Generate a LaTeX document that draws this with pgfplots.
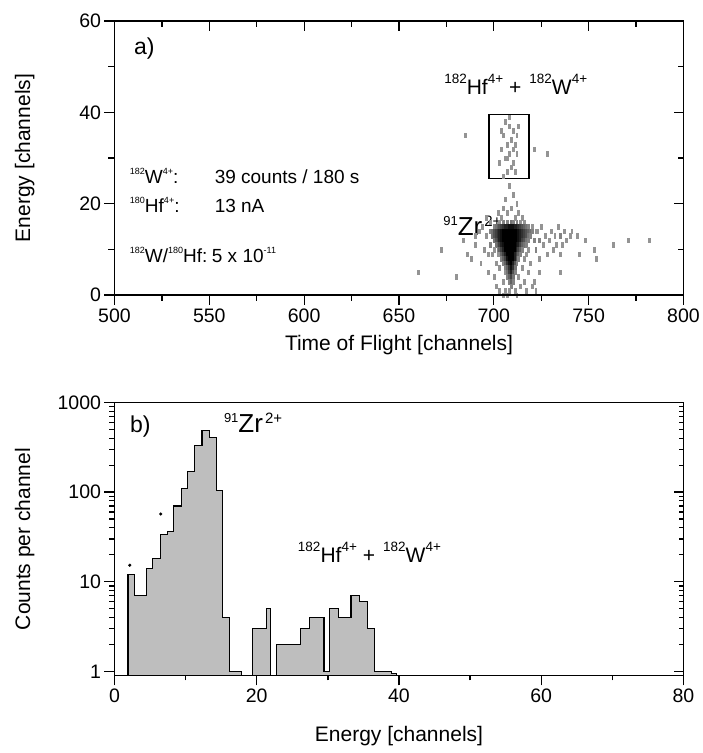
\documentclass[border=0pt]{standalone}
\usepackage{pgfplots}
\pgfplotsset{compat=1.18}
\usepackage{fontspec}
\setmainfont{Liberation Sans}
\newcommand\fsz[1]{\fontsize{#1}{#1}\selectfont}
\newcommand\supr[3]{\raisebox{#2}{\fontsize{#1}{#1}\selectfont #3}}
\definecolor{histgray}{RGB}{190,190,190}
\pgfplotsset{
  mybase/.style={
    scale only axis, width=569pt,
    axis line style={line width=1.3pt},
    every tick/.style={black, line width=1.3pt},
    major tick length=10pt, minor tick length=6pt,
    tick label style={font=\fsz{19.5}},
    /pgf/number format/assume math mode=true,
    label style={font=\fsz{21}},
  },
  overlay/.style={
    xticklabels={}, yticklabels={},
  }
}
\begin{document}
\begin{tikzpicture}
\path[use as bounding box] (0,0) rectangle (703pt,753pt);
% ---------------- top panel ----------------
\begin{axis}[mybase, at={(114.5pt,458pt)}, anchor=south west, height=274pt,
  xmin=500, xmax=800, ymin=0, ymax=60,
  xtick={500,550,...,800}, ytick={0,20,40,60},
  minor x tick num=1, minor y tick num=1,
  xtick pos=left, ytick pos=left, tick align=outside,
  xlabel={Time of Flight [channels]}, ylabel={Energy [channels]},
  xlabel style={at={(axis description cs:0.5,-0.182)}, anchor=center},
  ylabel style={at={(axis description cs:-0.158,0.5)}, anchor=center},
  colormap={bw}{gray(0cm)=(0.58); gray(1cm)=(0)},
  point meta min=1, point meta max=10,
]
\addplot[scatter, only marks, mark=square*, mark size=1.15pt,
  mark options={xscale=0.825, yscale=1.985, line width=0.15pt},
  scatter/use mapped color={draw=mapped color, fill=mapped color},
  point meta=explicit] table[meta=c] {
x y c
703 16 1
705 16 2
707 16 2
709 16 3
710 16 2
712 16 2
714 16 1
716 16 1
700 15 2
701 15 3
702 15 4
703 15 5
704 15 6
705 15 7
706 15 8
707 15 8
708 15 9
709 15 9
710 15 9
711 15 8
712 15 8
713 15 7
714 15 6
715 15 5
716 15 4
717 15 3
718 15 2
720 15 1
698 14 2
699 14 3
700 14 5
701 14 6
702 14 7
703 14 8
704 14 9
705 14 10
706 14 10
707 14 10
708 14 10
709 14 10
710 14 10
711 14 10
712 14 10
713 14 9
714 14 8
715 14 7
716 14 6
717 14 5
718 14 4
719 14 3
720 14 2
722 14 1
699 13 3
700 13 5
701 13 6
702 13 7
703 13 8
704 13 9
705 13 10
706 13 10
707 13 10
708 13 10
709 13 10
710 13 10
711 13 10
712 13 10
713 13 9
714 13 8
715 13 7
716 13 6
717 13 5
718 13 3
719 13 2
700 12 3
701 12 5
702 12 6
703 12 8
704 12 9
705 12 10
706 12 10
707 12 10
708 12 10
709 12 10
710 12 10
711 12 10
712 12 10
713 12 9
714 12 8
715 12 6
716 12 5
717 12 3
718 12 2
701 11 3
702 11 4
703 11 6
704 11 8
705 11 9
706 11 10
707 11 10
708 11 10
709 11 10
710 11 10
711 11 10
712 11 9
713 11 8
714 11 6
715 11 4
716 11 3
717 11 2
702 10 2
703 10 4
704 10 6
705 10 8
706 10 10
707 10 10
708 10 10
709 10 10
710 10 10
711 10 10
712 10 8
713 10 6
714 10 4
715 10 2
703 9 2
704 9 4
705 9 6
706 9 8
707 9 10
708 9 10
709 9 10
710 9 10
711 9 8
712 9 6
713 9 4
714 9 2
704 8 2
705 8 4
706 8 6
707 8 9
708 8 10
709 8 10
710 8 10
711 8 8
712 8 5
713 8 2
705 7 2
706 7 4
707 7 7
708 7 9
709 7 10
710 7 8
711 7 5
712 7 2
706 6 2
707 6 4
708 6 7
709 6 9
710 6 7
711 6 3
706 5 1
707 5 3
708 5 6
709 5 8
710 5 5
711 5 2
707 4 2
708 4 4
709 4 6
710 4 3
708 3 2
709 3 4
710 3 2
709 2 2
660 5 1
672 10 1
680 4 1
684 12 1
686 9 1
688 8 1
690 11 1
690 13 1
692 14 1
693 7 1
694 15 1
695 10 1
696 13 1
696 17 1
697 5 1
697 9 1
698 11 2
698 16 1
721 12 2
722 10 2
723 14 1
724 8 1
724 12 2
725 15 1
726 11 1
727 13 1
728 9 1
729 12 1
730 14 1
731 10 1
732 13 1
733 11 1
734 15 1
735 13 2
735 9 1
736 11 1
737 14 1
738 12 1
740 13 1
741 14 1
744 13 1
745 9 1
748 12 1
753 10 1
754 8 1
763 11 1
771 12 1
782 12 1
735 5 1
724 5 1
700 4 1
701 2 1
703 1 1
703 6 1
705 0 1
705 3 1
706 1 1
707 0 1
708 1 1
711 1 1
712 0 1
713 4 1
714 2 1
715 6 1
716 3 1
717 1 1
718 5 1
720 2 1
721 3 1
722 1 1
719 7 1
716 8 1
717 9 1
718 10 1
701 7 1
702 9 1
700 10 1
699 9 1
704 17 1
707 18 1
709 19 1
711 17 1
713 18 1
706 21 1
710 22 1
708 24 1
712 20 1
705 19 1
715 17 1
702 18 1
706 38 1
708 37 1
710 36 1
705 35 1
709 34 1
707 33 1
711 33 1
704 32 1
708 31 1
712 31 1
706 30 1
710 29 1
703 29 1
709 28 1
707 27 1
711 27 1
705 26 1
712 35 1
708 39 1
713 37 1
704 36 1
710 32 1
707 30 1
685 35 1
721 32 1
728 31 1
};
\addplot[black, line width=1.2pt] coordinates {(697.5,25.5) (718.5,25.5) (718.5,39.5) (697.5,39.5) (697.5,25.5)};
\node[anchor=west, font=\fsz{23}] at (axis cs:508.5,54) {a)};
\node[anchor=base west, font=\fsz{21}] at (axis cs:672,44)
  {\supr{13.5}{11pt}{182}Hf\supr{13.5}{11pt}{4+}\hspace{6pt}+\hspace{8pt}\supr{13.5}{11pt}{182}W\supr{13.5}{11pt}{4+}};
\node[anchor=base west, font=\fsz{26}] at (axis cs:671.5,13)
  {\supr{13}{10pt}{91}Zr\hspace{2pt}\supr{15}{9pt}{2+}};
\node[anchor=base west, font=\fsz{19}] at (axis cs:506.3,24.5) {\supr{9}{8.5pt}{182}W\supr{9}{8.5pt}{4+}:};
\node[anchor=base west, font=\fsz{19}] at (axis cs:551,24.5) {39 counts / 180 s};
\node[anchor=base west, font=\fsz{19}] at (axis cs:506.3,18.1) {\supr{9}{8.5pt}{180}Hf\supr{9}{8.5pt}{4+}:};
\node[anchor=base west, font=\fsz{19}] at (axis cs:551,18.1) {13 nA};
\node[anchor=base west, font=\fsz{19}] at (axis cs:506.3,7.2) {\supr{9}{8.5pt}{182}W/\supr{9}{8.5pt}{180}Hf:};
\node[anchor=base west, font=\fsz{19}] at (axis cs:549.5,7.2) {5 x 10\supr{9}{8.5pt}{-11}};
\end{axis}
\begin{axis}[mybase, overlay, at={(114.5pt,458pt)}, anchor=south west, height=274pt,
  xmin=500, xmax=800, ymin=0, ymax=60,
  xtick={500,550,...,800}, ytick={0,20,40,60},
  minor x tick num=1, minor y tick num=1,
  xtick pos=right, ytick pos=right, tick align=inside]
\end{axis}
% ---------------- bottom panel ----------------
\begin{axis}[mybase, at={(114.5pt,77.5pt)}, anchor=south west, height=273pt,
  ymode=log, xmin=0, xmax=80, ymin=0.9, ymax=1000,
  xtick={0,20,...,80}, minor x tick num=1,
  ytick={1,10,100,1000}, yticklabels={1,10,100,1000},
  minor ytick={2,3,4,5,6,7,8,9,20,30,40,50,60,70,80,90,200,300,400,500,600,700,800,900},
  minor tick length=5pt,
  xtick pos=left, ytick pos=left, tick align=outside,
  xlabel={Energy [channels]}, ylabel={Counts per channel},
  xlabel style={at={(axis description cs:0.5,-0.222)}, anchor=center},
  ylabel style={at={(axis description cs:-0.158,0.5)}, anchor=center},
]
\addplot[const plot, draw=black, line width=1.1pt, fill=histgray] coordinates {
(1.9,0.9) (1.9,12) (2.75,7) (4.45,14) (5.4,18) (6.45,34) (7.4,36) (8.35,70)
(9.4,110) (10.25,170) (11.25,330) (12.3,490) (13.4,410) (14.3,105) (15.2,4)
(16.2,1) (17.8,0.9) (19.35,3) (21.35,5) (21.95,0.9) (22.8,2) (26.2,3) (27.4,4)
(29.45,1) (30.2,5) (31.5,4) (33.25,7) (34.45,6) (35.55,3) (36.5,1) (38.9,0.95) (39.6,0.9)
} -- cycle;
\addplot[only marks, mark=*, mark size=1.4pt, black] coordinates {(2.15,15.3) (6.5,57)};
\node[anchor=west, font=\fsz{23}] at (axis cs:1.7,545) {b)};
\node[anchor=base west, font=\fsz{26}] at (axis cs:14.9,466)
  {\supr{13}{10pt}{91}Zr\hspace{2pt}\supr{15}{9pt}{2+}};
\node[anchor=base west, font=\fsz{21}] at (axis cs:25.3,16.5)
  {\supr{13.5}{11pt}{182}Hf\supr{13.5}{11pt}{4+}\hspace{6pt}+\hspace{8pt}\supr{13.5}{11pt}{182}W\supr{13.5}{11pt}{4+}};
\end{axis}
\begin{axis}[mybase, overlay, at={(114.5pt,77.5pt)}, anchor=south west, height=273pt,
  ymode=log, xmin=0, xmax=80, ymin=0.9, ymax=1000,
  xtick=\empty,
  ytick={1,10,100,1000},
  minor ytick={2,3,4,5,6,7,8,9,20,30,40,50,60,70,80,90,200,300,400,500,600,700,800,900},
  minor tick length=5pt,
  ytick pos=right, tick align=inside]
\end{axis}
\end{tikzpicture}
\end{document}
